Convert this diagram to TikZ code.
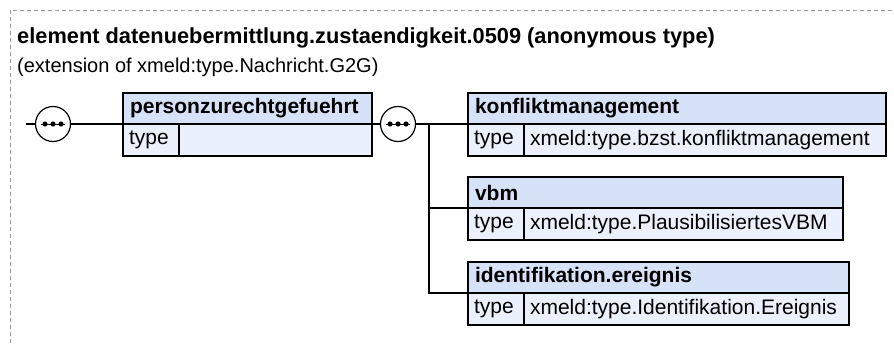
\documentclass[tikz,border=0pt]{standalone}
\usepackage{fontspec}
\setmainfont{Liberation Sans}
\usetikzlibrary{positioning}
\definecolor{hdrblue}{HTML}{D6E2F7}
\definecolor{rowblue}{HTML}{EBF1FC}
\definecolor{framegray}{HTML}{9A9A9A}
\begin{document}
\begin{tikzpicture}[
    x=1pt, y=-1pt,
    hdr/.style={
        draw,
        fill=hdrblue,
        line width=1.2pt,
        outer sep=0pt,
        anchor=north west,
        minimum height=31pt,
        inner xsep=7pt,
        inner ysep=0pt,
        align=left,
        font=\fontsize{21}{24}\selectfont\bfseries
    },
    cell/.style={
        draw,
        fill=rowblue,
        line width=1.2pt,
        outer sep=0pt,
        anchor=north west,
        minimum height=32pt,
        inner ysep=0pt,
        align=left,
        font=\fontsize{21}{24}\selectfont
    },
    tcell/.style={cell, inner xsep=6pt, text width=44pt},
    seqc/.style={
        circle,
        draw,
        fill=white,
        line width=1.2pt,
        minimum size=35pt,
        inner sep=0pt
    },
    conn/.style={line width=1.2pt}
]
    \useasboundingbox (0,0) rectangle (894,343);
    \draw[framegray, line width=1pt, dash pattern=on 4pt off 3pt]
        (10,343) -- (10,10) -- (894,10);

    \node[anchor=base west, inner sep=0pt,
        font=\fontsize{21.8}{24}\selectfont\bfseries] (title) at (17,43)
        {element datenuebermittlung.zustaendigkeit.0509 (anonymous type)};
    \node[anchor=base west, inner sep=0pt,
        font=\fontsize{20}{23}\selectfont] (ext) at (17,72)
        {(extension of xmeld:type.Nachricht.G2G)};

    % sequence symbols
    \coordinate (in) at (26,124);
    \node[seqc] (seq1) at (53,124) {};
    \node[seqc] (seq2) at (398,124) {};
    \foreach \s in {seq1,seq2} {
        \draw[line width=1pt] ([xshift=-12pt]\s.center) -- ([xshift=12pt]\s.center);
        \foreach \dx in {-8,0,8}
            \fill ([xshift=\dx pt]\s.center) circle (2.6pt);
    }

    % element boxes
    \node[hdr, text width=235pt] (pers) at (123,93) {personzurechtgefuehrt};
    \node[tcell] (pers-t) at (pers.south west) {type};
    \node[cell, text width=181pt, inner xsep=6pt] (pers-v) at (pers-t.north east) {};

    \node[hdr, text width=404pt] (konf) at (468,93) {konfliktmanagement};
    \node[tcell] (konf-t) at (konf.south west) {type};
    \node[cell, text width=350pt, inner xsep=6pt] (konf-v) at (konf-t.north east)
        {xmeld:type.bzst.konfliktmanagement};

    \node[hdr, text width=361pt] (vbm) at (468,177) {vbm};
    \node[tcell] (vbm-t) at (vbm.south west) {type};
    \node[cell, text width=307pt, inner xsep=6pt] (vbm-v) at (vbm-t.north east)
        {xmeld:type.PlausibilisiertesVBM};

    \node[hdr, text width=367pt] (ident) at (468,262) {identifikation.ereignis};
    \node[tcell] (ident-t) at (ident.south west) {type};
    \node[cell, text width=313pt, inner xsep=6pt] (ident-v) at (ident-t.north east)
        {xmeld:type.Identifikation.Ereignis};

    % connectors
    \coordinate (fork) at (429,124);
    \draw[conn] (in) -- (seq1.west);
    \draw[conn] (seq1.east) -- (pers.south west);
    \draw[conn] (pers.south east) -- (seq2.west);
    \draw[conn] (seq2.east) -- (konf.south west);
    \draw[conn] (fork) |- (vbm.south west);
    \draw[conn] (fork) |- (ident.south west);
\end{tikzpicture}
\end{document}
